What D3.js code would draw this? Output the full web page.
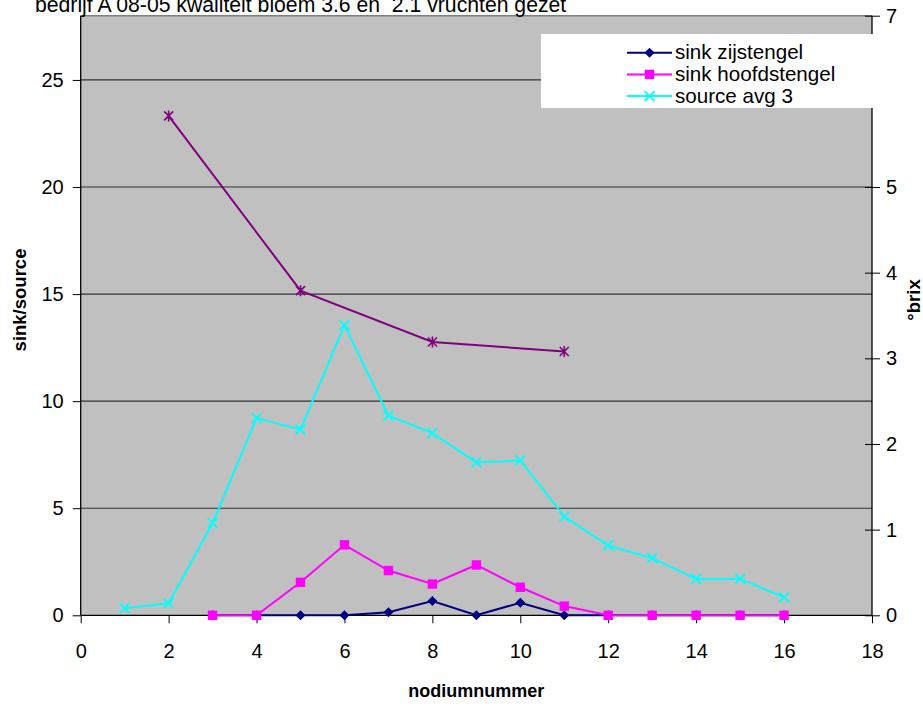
<!DOCTYPE html>
<html>
<head>
<meta charset="utf-8">
<script src="https://cdn.jsdelivr.net/npm/d3@7"></script>
<style>
  html, body { margin: 0; padding: 0; background: #fff; }
  svg { display: block; }
  text { font-family: "Liberation Sans", Arial, sans-serif; }
</style>
</head>
<body>
<svg id="chart" width="923" height="706"></svg>
<script>
// ---- data ----
const title = "bedrijf A 08-05 kwaliteit bloem 3.6 en  2.1 vruchten gezet";
const seriesNames = ["sink zijstengel", "sink hoofdstengel", "source avg 3", "brix"];

const zijX  = [3, 4, 5, 6, 7, 8, 9, 10, 11, 12, 13, 14, 15, 16];
const zijY  = [0, 0, 0, 0, 0.14, 0.67, 0, 0.59, 0, 0, 0, 0, 0, 0];

const hoofdX = [3, 4, 5, 6, 7, 8, 9, 10, 11, 12, 13, 14, 15, 16];
const hoofdY = [0, 0, 1.54, 3.29, 2.09, 1.46, 2.35, 1.31, 0.43, 0, 0, 0, 0, 0];

const sourceX = [1, 2, 3, 4, 5, 6, 7, 8, 9, 10, 11, 12, 13, 14, 15, 16];
const sourceY = [0.33, 0.56, 4.30, 9.21, 8.67, 13.55, 9.32, 8.51, 7.14, 7.23, 4.61, 3.26, 2.67, 1.70, 1.70, 0.84];

const brixX = [2, 5, 8, 11];
const brixY = [5.83, 3.79, 3.19, 3.08];

const xTicks = [0, 2, 4, 6, 8, 10, 12, 14, 16, 18];
const yTicks = [0, 5, 10, 15, 20, 25];
const y2Ticks = [0, 1, 2, 3, 4, 5, 6, 7];

// ---- layout ----
const svg = d3.select("#chart");
const L = 80.7, R = 872, T = 15.7, B = 615.3;

const x = d3.scaleLinear().domain([0, 18]).range([L, R]);
const y = d3.scaleLinear().domain([0, 28]).range([B, T]);
const y2 = d3.scaleLinear().domain([0, 7]).range([B, T]);

// plot background
svg.append("rect").attr("x", L).attr("y", T).attr("width", R - L).attr("height", B - T)
  .attr("fill", "#c0c0c0");

// gridlines
svg.append("g").selectAll("line").data(yTicks.filter(d => d > 0)).join("line")
  .attr("x1", L).attr("x2", R).attr("y1", d => y(d)).attr("y2", d => y(d))
  .attr("stroke", "#333").attr("stroke-width", 1.2);

// top border
svg.append("line").attr("x1", L).attr("x2", R).attr("y1", T).attr("y2", T)
  .attr("stroke", "#808080").attr("stroke-width", 1.5);

// axes
const fontSize = 20;
const xAxis = d3.axisBottom(x).tickValues(xTicks).tickSize(8).tickPadding(8).tickFormat(d3.format("d"));
const gx = svg.append("g").attr("transform", `translate(0,${B})`).call(xAxis);
const yAxis = d3.axisLeft(y).tickValues(yTicks).tickSize(8).tickPadding(9).tickFormat(d3.format("d"));
const gy = svg.append("g").attr("transform", `translate(${L},0)`).call(yAxis);
const y2Axis = d3.axisRight(y2).tickValues(y2Ticks).tickSize(8).tickPadding(6).tickFormat(d3.format("d"));
const gy2 = svg.append("g").attr("transform", `translate(${R},0)`).call(y2Axis);
// cross ticks on right axis
gy2.selectAll(".tick line").attr("x1", -7);

[gx, gy, gy2].forEach(g => {
  g.select(".domain").attr("stroke", "#000").attr("stroke-width", 1.3);
  g.selectAll(".tick line").attr("stroke", "#000").attr("stroke-width", 1);
  g.selectAll(".tick text").attr("font-size", fontSize).attr("fill", "#000")
    .attr("font-family", "'Liberation Sans', Arial, sans-serif");
});
gx.select(".domain").attr("d", `M${L},0H${R}`);
gy.select(".domain").attr("d", `M0,${B}V${T}`);
gy2.select(".domain").attr("d", `M0,${B}V${T}`);
gx.selectAll(".tick text").attr("y", 0).attr("dy", 0).attr("transform", "translate(0,42.5)");

// ---- series ----
const lineGen = (xs, ys, sc) => d3.line().x((d, i) => x(xs[i])).y((d, i) => sc(ys[i]))(ys);

function drawSeries(xs, ys, sc, color, marker) {
  const g = svg.append("g");
  g.append("path").attr("d", lineGen(xs, ys, sc)).attr("fill", "none")
    .attr("stroke", color).attr("stroke-width", 2);
  ys.forEach((v, i) => {
    drawMarker(g, x(xs[i]), sc(v), color, marker);
  });
}

function drawMarker(g, cx, cy, color, marker) {
  if (marker === "diamond") {
    const s = 5;
    g.append("path").attr("d", `M${cx},${cy - s}L${cx + s},${cy}L${cx},${cy + s}L${cx - s},${cy}Z`)
      .attr("fill", color);
  } else if (marker === "square") {
    const s = 4.7;
    g.append("rect").attr("x", cx - s).attr("y", cy - s).attr("width", 2 * s).attr("height", 2 * s)
      .attr("fill", color);
  } else if (marker === "x") {
    const s = 5;
    g.append("path").attr("d", `M${cx - s},${cy - s}L${cx + s},${cy + s}M${cx - s},${cy + s}L${cx + s},${cy - s}`)
      .attr("stroke", color).attr("stroke-width", 1.8).attr("fill", "none");
  } else if (marker === "star") {
    const s = 4.5;
    g.append("path").attr("d", `M${cx - s},${cy - s}L${cx + s},${cy + s}M${cx - s},${cy + s}L${cx + s},${cy - s}M${cx},${cy - s - 1}L${cx},${cy + s + 1}`)
      .attr("stroke", color).attr("stroke-width", 1.6).attr("fill", "none");
  }
}

drawSeries(zijX, zijY, y, "#000080", "diamond");
drawSeries(hoofdX, hoofdY, y, "#ff00ff", "square");
drawSeries(sourceX, sourceY, y, "#00ffff", "x");
drawSeries(brixX, brixY, y2, "#800080", "star");

// ---- legend ----
const lg = svg.append("g");
lg.append("rect").attr("x", 541).attr("y", 34).attr("width", 360).attr("height", 74).attr("fill", "#fff");
const legendItems = [
  { name: seriesNames[0], color: "#000080", marker: "diamond" },
  { name: seriesNames[1], color: "#ff00ff", marker: "square" },
  { name: seriesNames[2], color: "#00ffff", marker: "x" }
];
legendItems.forEach((it, i) => {
  const cy = 52.7 + i * 21.7;
  lg.append("line").attr("x1", 627).attr("x2", 672).attr("y1", cy).attr("y2", cy)
    .attr("stroke", it.color).attr("stroke-width", 2);
  drawMarker(lg, 649.5, cy, it.color, it.marker);
  lg.append("text").attr("x", 675).attr("y", cy + 6.5).attr("font-size", 20.6)
    .attr("fill", "#000").text(it.name);
});

// ---- titles ----
svg.append("text").attr("x", 35).attr("y", 12).attr("font-size", 21.2).attr("fill", "#000")
  .style("white-space", "pre").attr("xml:space", "preserve").text(title);

svg.append("text").attr("transform", `translate(26,300) rotate(-90)`).attr("text-anchor", "middle")
  .attr("font-size", 18.5).attr("font-weight", "bold").attr("fill", "#000").text("sink/source");

svg.append("text").attr("transform", `translate(920,300) rotate(-90)`).attr("text-anchor", "middle")
  .attr("font-size", 18.5).attr("font-weight", "bold").attr("fill", "#000").text("°brix");

svg.append("text").attr("x", (L + R) / 2).attr("y", 697).attr("text-anchor", "middle")
  .attr("font-size", 18).attr("font-weight", "bold").attr("fill", "#000").text("nodiumnummer");
</script>
</body>
</html>
